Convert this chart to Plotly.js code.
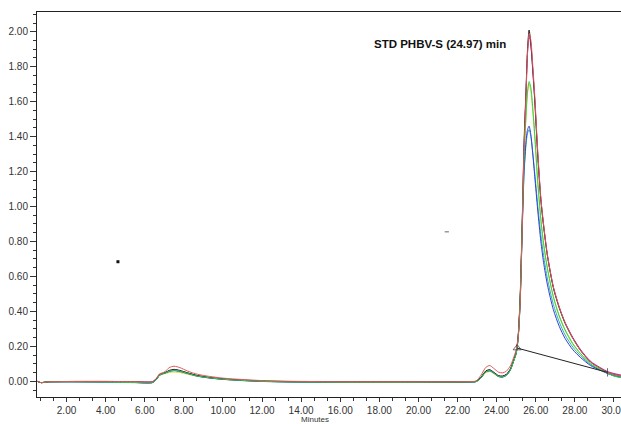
<!DOCTYPE html>
<html>
<head>
<meta charset="utf-8">
<script src="https://cdn.plot.ly/plotly-3.0.1.min.js"></script>
<style>
html,body{margin:0;padding:0;background:#fff;overflow:hidden;}
#chart{width:621px;height:424px;}
</style>
</head>
<body>
<div id="chart"></div>
<script>
// Retention time (minutes)
const minutes = [0.49,0.7,0.85,1.1,1.5,2.5,4.0,5.5,6.4,
  6.6,6.75,6.9,7.05,7.25,7.5,7.8,8.2,8.7,9.3,
  10,11,12,13.5,15,17,19,21,22.5,22.95,
  23.2,23.45,23.65,23.85,24.1,24.3,24.5,24.7,24.85,25.0,
  25.1,25.2,25.3,25.4,25.5,25.58,25.66,25.75,25.85,25.95,
  26.1,26.26,26.4,26.6,26.9,27.2,27.5,27.9,28.3,28.8,
  29.3,29.7,30.0,30.4];

const redSignal = [0.0,-0.008,-0.006,-0.003,-0.002,-0.001,-0.001,-0.002,-0.002,
  0.018,0.042,0.048,0.056,0.078,0.086,0.078,0.058,0.04,0.028,
  0.018,0.01,0.004,0.0,-0.002,-0.003,-0.003,-0.003,-0.002,0.002,
  0.035,0.08,0.09,0.074,0.052,0.048,0.058,0.088,0.13,0.18,
  0.25,0.44,0.84,1.32,1.64,1.88,1.99,1.95,1.80,1.63,
  1.32,1.05,0.90,0.72,0.54,0.425,0.335,0.245,0.175,0.11,
  0.075,0.05,0.04,0.03];

const blackSignal = [0.0,-0.008,-0.006,-0.003,-0.002,-0.001,-0.001,-0.002,-0.002,
  0.015,0.038,0.045,0.05,0.062,0.068,0.062,0.048,0.033,0.022,
  0.014,0.007,0.002,-0.002,-0.003,-0.004,-0.004,-0.004,-0.003,0.0,
  0.024,0.06,0.066,0.052,0.032,0.03,0.04,0.07,0.115,0.17,
  0.26,0.48,0.88,1.36,1.66,1.90,2.01,1.93,1.78,1.61,
  1.30,1.04,0.89,0.715,0.535,0.42,0.332,0.245,0.175,0.11,
  0.075,0.05,0.04,0.03];

const greenSignal = [0.0,-0.008,-0.006,-0.003,-0.003,-0.003,-0.005,-0.007,-0.007,
  0.01,0.035,0.043,0.048,0.058,0.063,0.058,0.045,0.03,0.02,
  0.012,0.005,0.0,-0.004,-0.005,-0.006,-0.006,-0.005,-0.004,-0.002,
  0.02,0.055,0.061,0.048,0.028,0.025,0.035,0.065,0.11,0.16,
  0.25,0.46,0.86,1.28,1.52,1.66,1.715,1.68,1.56,1.41,
  1.15,0.93,0.79,0.645,0.485,0.375,0.295,0.215,0.158,0.10,
  0.068,0.045,0.03,0.02];

const blueSignal = [0.0,-0.008,-0.006,-0.003,-0.003,-0.003,-0.005,-0.007,-0.007,
  0.01,0.034,0.042,0.047,0.056,0.061,0.056,0.044,0.029,0.019,
  0.011,0.004,-0.001,-0.004,-0.005,-0.006,-0.006,-0.005,-0.004,-0.002,
  0.02,0.054,0.06,0.047,0.027,0.024,0.034,0.064,0.11,0.16,
  0.25,0.45,0.84,1.20,1.37,1.44,1.46,1.41,1.30,1.17,
  0.98,0.80,0.68,0.55,0.41,0.315,0.245,0.18,0.135,0.09,
  0.063,0.043,0.032,0.022];

const cyanSignal = [0.0,-0.008,-0.006,-0.003,-0.003,-0.003,-0.005,-0.007,-0.007,
  0.01,0.034,0.042,0.047,0.057,0.062,0.057,0.045,0.03,0.02,
  0.012,0.005,0.0,-0.004,-0.005,-0.006,-0.006,-0.005,-0.004,-0.002,
  0.02,0.055,0.061,0.048,0.028,0.025,0.035,0.065,0.11,0.16,
  0.25,0.45,0.83,1.18,1.35,1.42,1.44,1.40,1.30,1.19,
  1.01,0.84,0.72,0.585,0.44,0.34,0.265,0.195,0.145,0.095,
  0.065,0.044,0.032,0.022];

const magentaSignal = [0.0,-0.008,-0.006,-0.003,-0.003,-0.003,-0.005,-0.008,-0.008,
  0.012,0.036,0.044,0.049,0.06,0.066,0.06,0.047,0.032,0.021,
  0.013,0.006,0.001,-0.003,-0.004,-0.005,-0.005,-0.005,-0.004,-0.001,
  0.022,0.058,0.064,0.05,0.03,0.028,0.038,0.068,0.112,0.165,
  0.25,0.46,0.86,1.33,1.64,1.88,1.98,1.92,1.77,1.60,
  1.30,1.04,0.89,0.72,0.54,0.425,0.337,0.25,0.18,0.115,
  0.078,0.055,0.045,0.035];

const yellowSignal = [0.0,-0.008,-0.006,-0.003,-0.003,-0.003,-0.004,-0.006,-0.006,
  0.01,0.032,0.04,0.044,0.05,0.053,0.05,0.04,0.028,0.019,
  0.011,0.004,-0.001,-0.004,-0.005,-0.005,-0.005,-0.005,-0.004,-0.002,
  0.02,0.05,0.056,0.044,0.026,0.024,0.034,0.064,0.11,0.16,
  0.25,0.46,0.86,1.28,1.51,1.65,1.70,1.66,1.54,1.39,
  1.13,0.92,0.78,0.64,0.48,0.37,0.29,0.21,0.155,0.10,
  0.067,0.045,0.03,0.02];

// Integration baseline of the main peak
const baselineTime = [25.05, 29.67];
const baselineValue = [0.19, 0.051];

// Stray marks
const dotTime = [4.63];
const dotValue = [0.684];
const markTime = [21.45];
const markValue = [0.855];

const peakLabel = "STD PHBV-S (24.97) min";
const labelTime = 17.62;
const labelValue = 1.93;

const xTicks = [2,4,6,8,10,12,14,16,18,20,22,24,26,28,30];
const yTicks = [0,0.2,0.4,0.6,0.8,1.0,1.2,1.4,1.6,1.8,2.0];

function tr(y, color){
  return {x: minutes, y: y, type: 'scatter', mode: 'lines',
    line: {color: color, width: 1, shape: 'spline', smoothing: 0.7},
    hoverinfo: 'skip', showlegend: false};
}

const data = [
  tr(yellowSignal, '#d6d62e'),
  tr(magentaSignal, '#c23cc2'),
  tr(cyanSignal, '#22b4c4'),
  tr(blueSignal, '#3a3ad6'),
  tr(blackSignal, '#1a1a1a'),
  tr(greenSignal, '#33d14a'),
  tr(redSignal, '#e05858'),
  {x: baselineTime, y: baselineValue, type: 'scatter', mode: 'lines+markers',
   line: {color: '#222', width: 1},
   marker: {symbol: ['triangle-up-open', 'line-ns-open'], size: [7, 6], color: '#333', line: {color: '#333', width: 1}},
   showlegend: false, hoverinfo: 'skip'},
  {x: dotTime, y: dotValue, type: 'scatter', mode: 'markers',
   marker: {symbol: 'square', size: 3, color: '#111'}, showlegend: false, hoverinfo: 'skip'},
  {x: markTime, y: markValue, type: 'scatter', mode: 'markers',
   marker: {symbol: 'line-ew-open', size: 3, color: '#666', line: {color: '#666', width: 1}}, showlegend: false, hoverinfo: 'skip'}
];

const fontFam = 'Liberation Sans, Arial, sans-serif';

const layout = {
  width: 621, height: 424,
  margin: {l: 37, r: 0, t: 12, b: 27, pad: 0},
  paper_bgcolor: '#fff', plot_bgcolor: '#fff',
  font: {family: fontFam, size: 10, color: '#333'},
  xaxis: {
    range: [0.49, 30.36], showgrid: false, zeroline: false,
    showline: true, linecolor: '#222', linewidth: 1, mirror: true,
    ticks: 'outside', ticklen: 4, tickcolor: '#333', tickwidth: 1,
    tickvals: xTicks, ticktext: xTicks.map(v => v.toFixed(2)),
    ticklabeloverflow: 'allow',
    tickfont: {family: fontFam, size: 10, color: '#333'},
    minor: {ticks: 'outside', ticklen: 3, tickcolor: '#333', dtick: 2/3, tick0: 0, showgrid: false}
  },
  yaxis: {
    range: [-0.09, 2.113], showgrid: false, zeroline: false,
    showline: true, linecolor: '#222', linewidth: 1,
    ticks: 'outside', ticklen: 6, tickcolor: '#333', tickwidth: 1,
    tickvals: yTicks, ticktext: yTicks.map(v => v.toFixed(2)),
    tickfont: {family: fontFam, size: 10, color: '#333'},
    minor: {ticks: 'outside', ticklen: 3, tickcolor: '#333', dtick: 0.05, tick0: 0, showgrid: false}
  },
  annotations: [
    {x: labelTime, y: labelValue, xref: 'x', yref: 'y', text: peakLabel,
     showarrow: false, xanchor: 'left', yanchor: 'middle',
     font: {family: fontFam, size: 11.5, color: '#111', weight: 'bold'}},
    {x: 0.476, y: 0, xref: 'paper', yref: 'paper', text: 'Minutes',
     showarrow: false, xanchor: 'center', yanchor: 'top', yshift: -17, borderpad: 0,
     font: {family: fontFam, size: 8, color: '#333'}}
  ]
};

Plotly.newPlot('chart', data, layout, {staticPlot: true, displayModeBar: false});
</script>
</body>
</html>
